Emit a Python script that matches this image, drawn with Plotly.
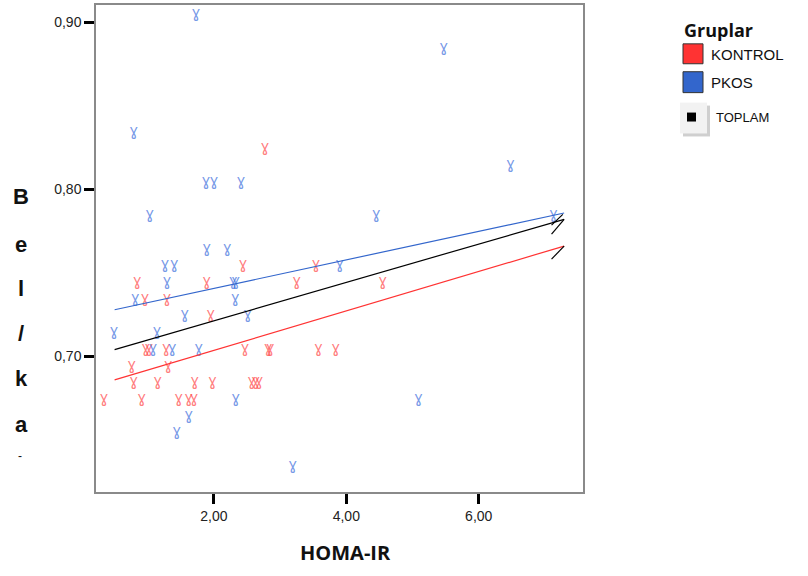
import plotly.graph_objects as go

# ---- data ----
kontrol_x = [2.77, 2.44, 3.54, 0.84, 1.89, 3.25, 4.55, 0.96, 1.29, 1.95,
             0.97, 1.02, 1.28, 2.47, 2.82, 2.85, 3.58, 3.84, 0.76, 1.31,
             0.79, 1.15, 1.71, 1.98, 2.57, 2.63, 2.68, 0.34, 0.91, 1.47,
             1.62, 1.70]
kontrol_y = [0.82, 0.75, 0.75, 0.74, 0.74, 0.74, 0.74, 0.73, 0.73, 0.72,
             0.70, 0.70, 0.70, 0.70, 0.70, 0.70, 0.70, 0.70, 0.69, 0.69,
             0.68, 0.68, 0.68, 0.68, 0.68, 0.68, 0.68, 0.67, 0.67, 0.67,
             0.67, 0.67]
pkos_x = [1.73, 5.47, 0.79, 6.48, 1.88, 2.00, 2.41, 1.03, 4.45, 7.13,
          1.89, 2.20, 1.26, 1.40, 3.90, 1.29, 2.29, 2.33, 0.81, 2.32,
          1.56, 2.51, 0.49, 1.14, 1.08, 1.37, 1.77, 2.33, 5.09, 1.62,
          1.44, 3.19]
pkos_y = [0.90, 0.88, 0.83, 0.81, 0.80, 0.80, 0.80, 0.78, 0.78, 0.78,
          0.76, 0.76, 0.75, 0.75, 0.75, 0.74, 0.74, 0.74, 0.73, 0.73,
          0.72, 0.72, 0.71, 0.71, 0.70, 0.70, 0.70, 0.67, 0.67, 0.66,
          0.65, 0.63]

# fit lines (start / end)
fit_x = [0.50, 7.29]
fit_kontrol = [0.6861, 0.7661]
fit_pkos = [0.7280, 0.7859]
fit_toplam = [0.7042, 0.7821]
# small label stubs at the line ends
stub_x = [7.10, 7.29]
stub1 = [0.7732, 0.7821]
stub2_x = [7.10, 7.27]
stub2 = [0.7786, 0.7851]
stub3 = [0.7583, 0.7661]

x_ticks = [2, 4, 6]
y_ticks = [0.70, 0.80, 0.90]

RED = "#ff3333"
BLUE = "#3366cc"
GLYPH = "\u0263"  # gamma-like glyph standing in for the victory-hand marker

fig = go.Figure()
fig.add_trace(go.Scatter(x=kontrol_x, y=kontrol_y, mode="text", text=[GLYPH] * len(kontrol_x),
                         textposition="top center",
                         textfont=dict(family="DejaVu Sans", size=15,
                                       color="rgba(255,70,70,0.7)"),
                         showlegend=False, hoverinfo="x+y"))
fig.add_trace(go.Scatter(x=pkos_x, y=pkos_y, mode="text", text=[GLYPH] * len(pkos_x),
                         textposition="top center",
                         textfont=dict(family="DejaVu Sans", size=15,
                                       color="rgba(60,110,220,0.7)"),
                         showlegend=False, hoverinfo="x+y"))
fig.add_trace(go.Scatter(x=fit_x, y=fit_pkos, mode="lines", line=dict(color=BLUE, width=1.2), showlegend=False))
fig.add_trace(go.Scatter(x=fit_x, y=fit_toplam, mode="lines", line=dict(color="black", width=1.2), showlegend=False))
fig.add_trace(go.Scatter(x=fit_x, y=fit_kontrol, mode="lines", line=dict(color=RED, width=1.2), showlegend=False))
for sx, sy in [(stub_x, stub1), (stub2_x, stub2), (stub_x, stub3)]:
    fig.add_trace(go.Scatter(x=sx, y=sy, mode="lines", line=dict(color="black", width=1.2), showlegend=False))

L, R, T, B = 96, 583, 3, 492
W_, H_ = R - L, B - T


def px(x):
    return (x - L) / W_


def py(y):
    return (B - y) / H_


fig.update_layout(
    width=808, height=576,
    margin=dict(l=L, r=808 - R, t=T, b=576 - B),
    paper_bgcolor="white", plot_bgcolor="white",
    separators=",.",
    showlegend=False,
    xaxis=dict(range=[0.219, 7.575], tickvals=x_ticks, tickformat=".2f",
               ticks="outside", ticklen=10, tickwidth=3, tickcolor="black",
               showgrid=False, zeroline=False, showline=True, linecolor="#8a8a8a",
               linewidth=1.5, mirror=True,
               tickfont=dict(family="Liberation Sans", size=14, color="#222")),
    yaxis=dict(range=[0.619, 0.9103], tickvals=y_ticks, tickformat=".2f",
               ticks="outside", ticklen=10, tickwidth=3, tickcolor="black",
               showgrid=False, zeroline=False, showline=True, linecolor="#8a8a8a",
               linewidth=1.5, mirror=True,
               tickfont=dict(family="Liberation Sans", size=14, color="#222")),
)

ann = []
ann.append(dict(text="<b>HOMA-IR</b>", x=px(345), y=py(553), xref="paper", yref="paper",
                showarrow=False, font=dict(family="Open Sans", size=20, color="#111"),
                xanchor="center", yanchor="middle"))
for ch, yy in zip(["B", "e", "l", "/", "k", "a"], [195, 243, 288, 333, 378, 424]):
    ann.append(dict(text="<b>%s</b>" % ch, x=px(21), y=py(yy), xref="paper", yref="paper",
                    showarrow=False, font=dict(family="Liberation Sans", size=22, color="#111"),
                    xanchor="center", yanchor="middle"))
ann.append(dict(text="-", x=px(20), y=py(456), xref="paper", yref="paper",
                showarrow=False, font=dict(family="Liberation Sans", size=12, color="#111"),
                xanchor="center", yanchor="middle"))
# legend
ann.append(dict(text="<b>Gruplar</b>", x=px(682), y=py(28), xref="paper", yref="paper",
                showarrow=False, font=dict(family="Open Sans", size=18, color="#111"),
                xanchor="left", yanchor="middle"))
ann.append(dict(text="KONTROL", x=px(709), y=py(53), xref="paper", yref="paper",
                showarrow=False, font=dict(family="Liberation Sans", size=15, color="#111"),
                xanchor="left", yanchor="middle"))
ann.append(dict(text="PKOS", x=px(709), y=py(81), xref="paper", yref="paper",
                showarrow=False, font=dict(family="Liberation Sans", size=15, color="#111"),
                xanchor="left", yanchor="middle"))
ann.append(dict(text="TOPLAM", x=px(714), y=py(116), xref="paper", yref="paper",
                showarrow=False, font=dict(family="Liberation Sans", size=13, color="#111"),
                xanchor="left", yanchor="middle"))
fig.update_layout(annotations=ann)

shapes = []
shapes.append(dict(type="rect", xref="paper", yref="paper", x0=px(683), x1=px(703), y0=py(42), y1=py(62),
                   fillcolor=RED, line=dict(color="#333", width=1)))
shapes.append(dict(type="rect", xref="paper", yref="paper", x0=px(683), x1=px(703), y0=py(70), y1=py(91),
                   fillcolor=BLUE, line=dict(color="#333", width=1)))
shapes.append(dict(type="rect", xref="paper", yref="paper", x0=px(683), x1=px(710), y0=py(104), y1=py(135),
                   fillcolor="#cfcfcf", line=dict(width=0)))
shapes.append(dict(type="rect", xref="paper", yref="paper", x0=px(680), x1=px(707), y0=py(101), y1=py(132),
                   fillcolor="#f2f2f2", line=dict(width=0)))
shapes.append(dict(type="rect", xref="paper", yref="paper", x0=px(687), x1=px(696), y0=py(111), y1=py(120),
                   fillcolor="black", line=dict(width=0)))
fig.update_layout(shapes=shapes)

fig.write_html("out.html")
